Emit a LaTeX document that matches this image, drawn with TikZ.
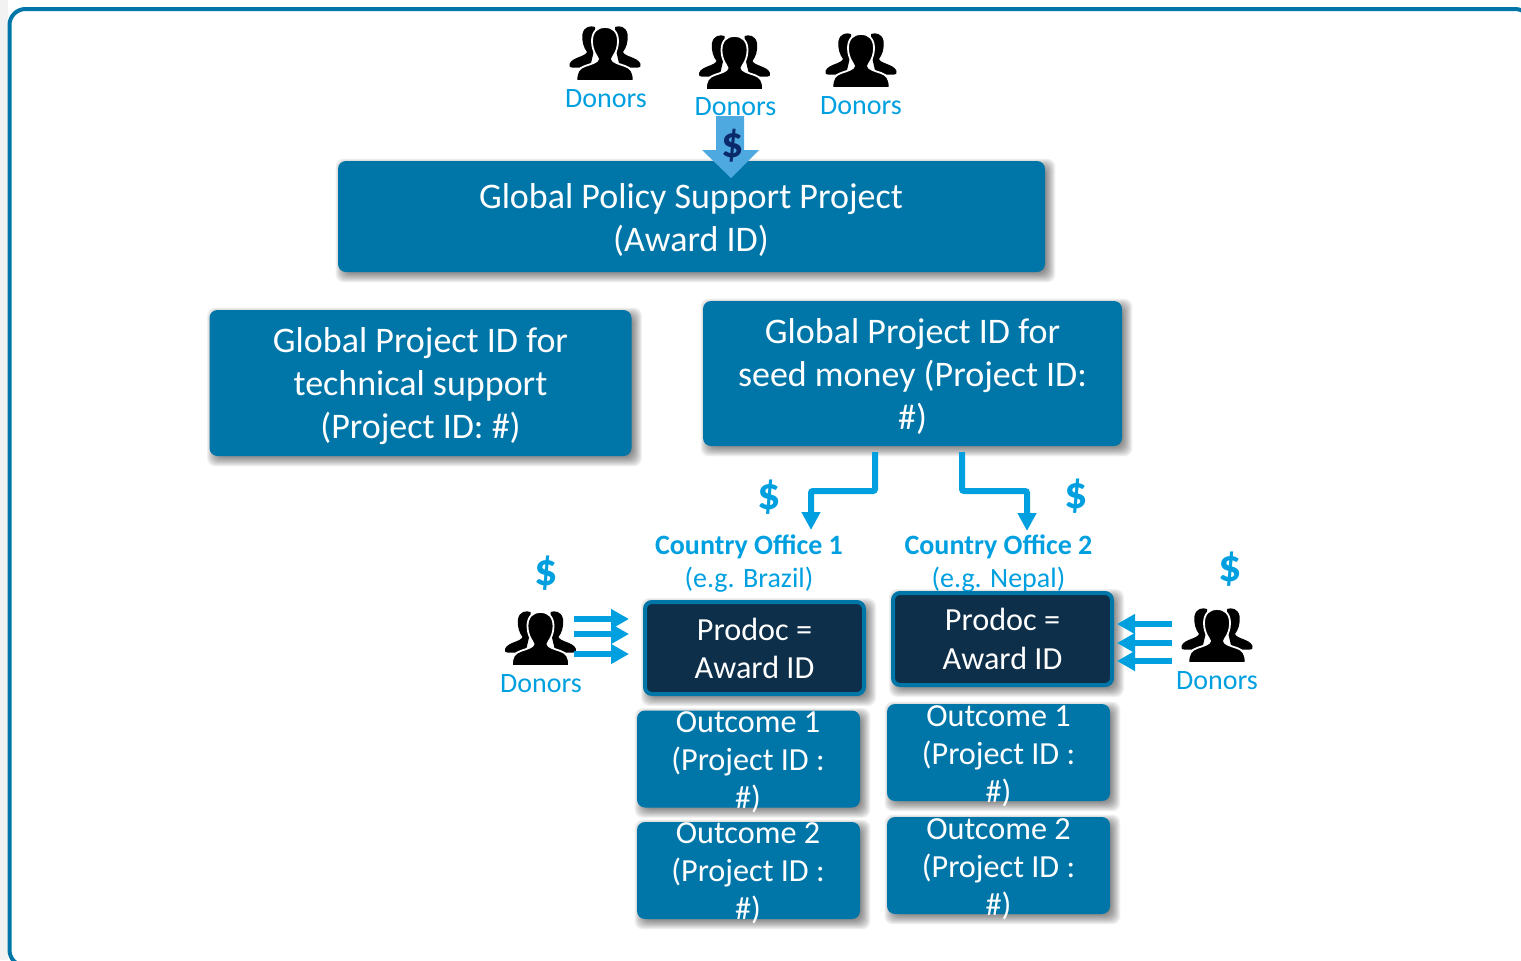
\documentclass[tikz,border=0pt]{standalone}
\usepackage{fontspec}
\setmainfont{Carlito}
\usetikzlibrary{arrows.meta,backgrounds}
\definecolor{teal}{HTML}{0076A8}
\definecolor{navybox}{HTML}{0D2F49}
\definecolor{skyt}{HTML}{00A0E0}
\definecolor{bigarrow}{HTML}{4FA9E1}
\definecolor{dollarnavy}{HTML}{0B2A6B}
\newcommand\boxshadow[1]{%
  \begin{pgfonlayer}{background}
  \foreach \g in {-4,...,6}{
    \fill[black,fill opacity=.055,rounded corners=4pt]
      ([shift={(4-\g,4+\g)}]#1.south west) rectangle ([shift={(4+\g,4-\g)}]#1.north east);
  }
  \end{pgfonlayer}}
\tikzset{
  bluebox/.style={fill=teal,rounded corners=4pt,inner sep=0pt},
  darkbox/.style={fill=navybox,draw=teal,line width=2pt,rounded corners=3.5pt,inner sep=0pt},
  bigtext/.style={text=white,align=center,font=\fontsize{18}{21.5}\selectfont},
  outtext/.style={text=white,align=center,font=\fontsize{16.1}{19}\selectfont},
  prodtext/.style={text=white,align=center,font=\fontsize{16.1}{19.2}\selectfont},
  donorlabel/.style={text=skyt,font=\fontsize{14}{17}\selectfont},
  dollar/.style={text=skyt,font=\fontsize{23}{24}\selectfont\bfseries},
  officebold/.style={text=skyt,font=\fontsize{14}{17}\selectfont\bfseries},
  officelabel/.style={text=skyt,font=\fontsize{14}{17}\selectfont},
  elbow/.style={draw=skyt,line width=3pt,rounded corners=1pt,-{Triangle[length=9pt,width=9pt]}},
  flow/.style={draw=skyt,line width=2.8pt,-{Triangle[length=9pt,width=9.5pt]}},
  donors/.pic={
    \foreach \s in {-1,1}{
      \fill[black,xscale=\s] (10,1) .. controls (14,-0.5) and (21,0) .. (22.5,8) .. controls (23.5,16) and (21,22) .. (18,26)
        .. controls (20,31) and (33,31) .. (35.5,38) .. controls (36,41) and (35,41.5) .. (33,41.5) -- (15,41.5) -- (10,20) -- cycle;
    }
    \fill[black,draw=white,line width=.9pt]
      (-28.5,55) .. controls (-29,46) and (-26,42) .. (-20,40)
      .. controls (-14,38) and (-7,36) .. (-7,33)
      .. controls (-7,31) and (-13,26) .. (-13,15)
      .. controls (-13,6) and (-8,1) .. (0,1)
      .. controls (8,1) and (13,6) .. (13,15)
      .. controls (13,26) and (7,31) .. (7,33)
      .. controls (7,36) and (14,38) .. (20,40)
      .. controls (26,42) and (29,46) .. (28.5,55) -- cycle;
  }
}
\begin{document}
\begin{tikzpicture}[x=0.5pt,y=-0.5pt]
\useasboundingbox (0,0) rectangle (1521,960);
\fill[black!5] (0,0) rectangle (8,960);
\begin{scope}
\clip (0,0) rectangle (1521,960);
\draw[teal,line width=2pt,rounded corners=8pt] (9.5,9) rectangle (1531,966);
\end{scope}

\pic at (605,26) {donors};
\pic at (734.5,35) {donors};
\pic at (861,33) {donors};
\pic at (540.5,611) {donors};
\pic at (1217,608) {donors};

\node[donorlabel] (d1) at (606,99) {Donors};
\node[donorlabel] (d2) at (735.5,107) {Donors};
\node[donorlabel] (d3) at (861,106) {Donors};
\node[donorlabel] (d4) at (541,684) {Donors};
\node[donorlabel] (d5) at (1217,681) {Donors};

% boxes
\node[bluebox,minimum width=353.5pt,minimum height=55.5pt] (gp) at (691.5,216.5) {};
\boxshadow{gp}
\node[bigtext] (gpt) at (691,219.5) {Global Policy Support Project\\(Award ID)};
\node[bluebox,minimum width=211pt,minimum height=73pt] (tech) at (420.5,383) {};
\boxshadow{tech}
\node[bigtext] (techt) at (420.5,386) {Global Project ID for\\technical support\\(Project ID: \#)};
\node[bluebox,minimum width=209.5pt,minimum height=72.5pt] (seed) at (912.5,373.5) {};
\boxshadow{seed}
\node[bigtext] (seedt) at (912.5,376.5) {Global Project ID for\\seed money (Project ID:\\\#)};

\node[darkbox,minimum width=109.5pt,minimum height=46pt] (pd1) at (754.5,648) {};
\boxshadow{pd1}
\node[prodtext] (pd1t) at (754.5,648.5) {Prodoc =\\Award ID};
\node[darkbox,minimum width=109.5pt,minimum height=46pt] (pd2) at (1002.5,639) {};
\boxshadow{pd2}
\node[prodtext] (pd2t) at (1002.5,639) {Prodoc =\\Award ID};

\node[bluebox,minimum width=111.5pt,minimum height=48.5pt] (o11) at (748.5,759) {};
\boxshadow{o11}
\node[outtext] (o11t) at (748,762) {Outcome 1\\(Project ID :\\\#)};
\node[bluebox,minimum width=111.5pt,minimum height=48.5pt] (o12) at (748.5,870.5) {};
\boxshadow{o12}
\node[outtext] (o12t) at (748,873.5) {Outcome 2\\(Project ID :\\\#)};
\node[bluebox,minimum width=111.5pt,minimum height=48.5pt] (o21) at (998.5,752.5) {};
\boxshadow{o21}
\node[outtext] (o21t) at (998.5,756) {Outcome 1\\(Project ID :\\\#)};
\node[bluebox,minimum width=111.5pt,minimum height=48.5pt] (o22) at (998.5,865.5) {};
\boxshadow{o22}
\node[outtext] (o22t) at (998.5,869) {Outcome 2\\(Project ID :\\\#)};

% top funding arrow
\fill[bigarrow] (716,116) -- (744,116) -- (744,150) -- (759,150) -- (731,178) -- (702,150) -- (716,150) -- cycle;
\node[text=dollarnavy,font=\fontsize{22}{24}\selectfont\bfseries] (dtop) at (733,146) {\$};

% country labels
\node[officebold] (co1) at (749,547) {Country Office 1};
\node[officelabel] (co1b) at (749,580) {(e.g. Brazil)};
\node[officebold] (co2) at (998.5,547) {Country Office 2};
\begin{scope}
\clip (880,560) rectangle (1100,590);
\node[officelabel] (co2b) at (998.5,580) {(e.g. Nepal)};
\end{scope}

\node[dollar] (s1) at (769,497) {\$};
\node[dollar] (s2) at (1076,496) {\$};
\node[dollar] (s3) at (546.5,573) {\$};
\node[dollar] (s4) at (1230,569) {\$};

% elbow connectors
\coordinate (e1a) at (875,452);
\coordinate (e1b) at (811,530);
\coordinate (e2a) at (962,452);
\coordinate (e2b) at (1027,531);
\draw[elbow] (e1a) -- (875,491) -- (811,491) -- (e1b);
\draw[elbow] (e2a) -- (962,491) -- (1027,491) -- (e2b);

% donor flows
\foreach \n/\y in {a/619,b/634,c/654}{
  \coordinate (l\n s) at (574,\y);
  \coordinate (l\n e) at (629,\y);
  \draw[flow] (l\n s) -- (l\n e);
}
\foreach \n/\y in {a/624,b/643,c/661}{
  \coordinate (r\n s) at (1172,\y);
  \coordinate (r\n e) at (1117,\y);
  \draw[flow] (r\n s) -- (r\n e);
}
\end{tikzpicture}
\end{document}
